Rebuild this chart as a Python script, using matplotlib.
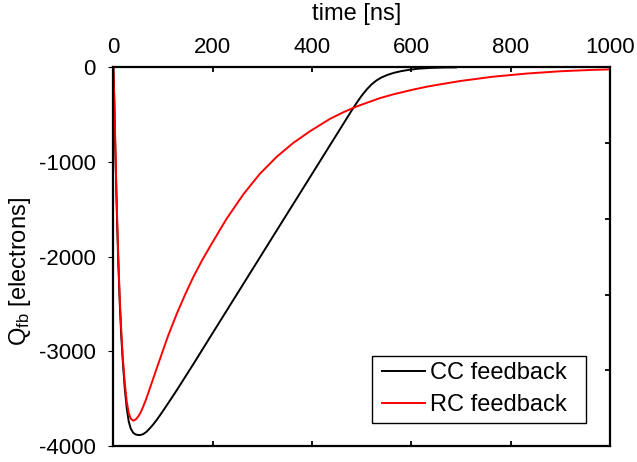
import numpy as np
import matplotlib
matplotlib.use("Agg")
import matplotlib.pyplot as plt
from matplotlib.patches import Rectangle

plt.rcParams['font.family'] = ['Liberation Sans', 'DejaVu Sans']
plt.rcParams['mathtext.fontset'] = 'custom'
plt.rcParams['mathtext.rm'] = 'Liberation Sans'
plt.rcParams['mathtext.it'] = 'Liberation Sans'
plt.rcParams['axes.unicode_minus'] = False

# CC feedback (black)
t_cc = np.array([0, 1, 2, 3, 4, 5, 6, 8, 10, 13, 16, 19, 23, 27, 31, 35, 40, 45, 50, 54,
                 60, 67, 74, 80, 87, 94, 102, 110, 119, 128, 161, 195, 255, 329, 396,
                 463, 480, 490, 500, 510, 520, 530, 540, 552, 565, 580, 597, 615, 640,
                 665, 690])
q_cc = np.array([0, -160, -380, -620, -860, -1090, -1310, -1710, -2060, -2500, -2840,
                 -3100, -3390, -3600, -3740, -3815, -3860, -3878, -3884, -3884, -3875,
                 -3849, -3810, -3774, -3727, -3675, -3614, -3551, -3480, -3408, -3136,
                 -2849, -2345, -1723, -1161, -598, -455, -375, -300, -235, -180, -138,
                 -107, -80, -58, -40, -25, -14, -6, -2, -1])

# RC feedback (red)
t_rc = np.array([0, 1, 2, 3, 4, 5, 6, 8, 10, 13, 16, 19, 23, 27, 31, 35, 40, 45, 50, 55,
                 60, 65, 70, 77, 86, 94, 110, 128, 145, 161, 178, 195, 228, 262, 295,
                 329, 362, 396, 436, 463, 487, 497, 537, 564, 604, 631, 658, 698, 765,
                 832, 899, 960, 1000])
q_rc = np.array([0, -150, -350, -570, -800, -1030, -1250, -1650, -2000, -2450, -2780,
                 -3060, -3330, -3530, -3650, -3710, -3732, -3720, -3690, -3645, -3585,
                 -3520, -3445, -3338, -3200, -3080, -2840, -2600, -2395, -2215, -2045,
                 -1890, -1600, -1340, -1125, -945, -800, -675, -545, -475, -420, -400,
                 -325, -285, -235, -205, -180, -145, -99, -66, -42, -28, -22])

xticks = [0, 200, 400, 600, 800, 1000]
yticks = [0, -1000, -2000, -3000, -4000]

fig = plt.figure(figsize=(6.37, 4.62), dpi=100)
ax = fig.add_axes([0.1779, 0.0346, 0.7797, 0.8197])

ax.plot(t_cc, q_cc, color='black', lw=1.4, label='CC feedback')
ax.plot(t_rc, q_rc, color='red', lw=1.4, label='RC feedback')

ax.set_xlim(0, 1000)
ax.set_ylim(-4000, 0)
ax.set_xticks(xticks)
ax.set_yticks(yticks)
ax.xaxis.set_ticks_position('both')
ax.tick_params(axis='x', which='both', direction='in', top=True, bottom=True,
               labeltop=True, labelbottom=False, length=3.6, width=1.3,
               labelsize=16, pad=7)
ax.tick_params(axis='y', left=False, right=False, labelsize=16, pad=9)
ax.set_xlabel('time [ns]', fontsize=17)
ax.xaxis.set_label_position('top')
ax.xaxis.set_label_coords(0.49, 1.141)
ax.xaxis.label.set_va('center')
ax.set_ylabel(r'Q$_{\mathregular{fb}}$ [electrons]', fontsize=17)
ax.yaxis.set_label_coords(-0.188, 0.46)
ax.yaxis.label.set_va('center')
for s in ax.spines.values():
    s.set_linewidth(1.6)

# right-side ticks
ax2 = ax.twinx()
ax2.set_ylim(-5, 0)
ax2.set_yticks([-4, -3, -2, -1])
ax2.tick_params(axis='y', direction='in', length=3.6, width=1.3, labelright=False)
for s in ax2.spines.values():
    s.set_visible(False)

leg = ax2.legend(*ax.get_legend_handles_labels(), loc='center left',
                 bbox_to_anchor=(0.5416, 0.15), fontsize=17, frameon=False,
                 handlelength=1.82, handletextpad=0.22, borderpad=0,
                 labelspacing=0.4, borderaxespad=0)
ax2.add_patch(Rectangle((0.521, 0.060), 0.9517 - 0.521, 0.2384 - 0.060,
                        transform=ax2.transAxes, fill=False, edgecolor='black',
                        lw=1.0, zorder=5))

fig.savefig('out.png', dpi=100)
